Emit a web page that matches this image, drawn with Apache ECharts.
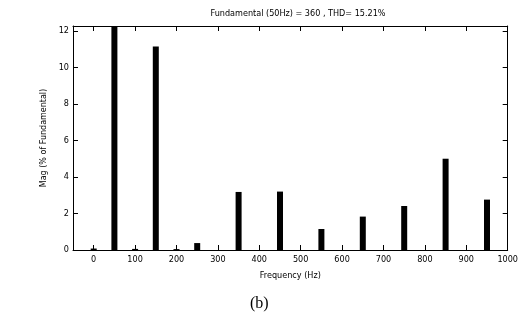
<!DOCTYPE html>
<html>
<head>
<meta charset="utf-8">
<script src="https://cdn.jsdelivr.net/npm/echarts@6/dist/echarts.min.js"></script>
<style>
  html, body { margin: 0; padding: 0; background: #fff; }
  #main { width: 521px; height: 326px; }
</style>
</head>
<body>
<div id="main"></div>
<script>
// harmonic frequencies (Hz) and magnitudes (% of fundamental)
const freqs = [0, 50, 100, 150, 200, 250, 350, 450, 550, 650, 750, 850, 950]
const mags = [0.08, 100, 0.06, 11.15, 0.05, 0.38, 3.18, 3.2, 1.15, 1.83, 2.41, 5.0, 2.76]
const xTicks = [0, 100, 200, 300, 400, 500, 600, 700, 800, 900, 1000]
const yTicks = [0, 2, 4, 6, 8, 10, 12]

const narrow = '"Liberation Sans Narrow", "DejaVu Sans Condensed", sans-serif'

const tickStyle = { show: true, inside: true, length: 5, lineStyle: { color: '#000', width: 1 } }
const lineStyle = { show: true, onZero: false, lineStyle: { color: '#000', width: 1 } }

const option = {
  animation: false,
  backgroundColor: '#fff',
  title: {
    text: 'Fundamental (50Hz) = 360 , THD= 15.21%',
    left: 293,
    top: 4,
    textAlign: 'center',
    textStyle: { fontFamily: narrow, fontSize: 9, fontWeight: 'normal', color: '#000' }
  },
  grid: { left: 73, right: 8, top: 26, bottom: 76 },
  xAxis: [
    {
      type: 'value',
      min: -50,
      max: 1000,
      name: 'Frequency (Hz)',
      nameLocation: 'middle',
      nameGap: 21,
      nameTextStyle: { fontFamily: narrow, fontSize: 9, color: '#000' },
      axisLine: lineStyle,
      axisTick: Object.assign({ customValues: xTicks }, tickStyle),
      axisLabel: { customValues: xTicks, formatter: v => String(v), fontFamily: narrow, fontSize: 9, color: '#000', margin: 5 },
      splitLine: { show: false }
    },
    {
      type: 'value',
      position: 'top',
      min: -50,
      max: 1000,
      axisLine: lineStyle,
      axisTick: Object.assign({ customValues: xTicks }, tickStyle),
      axisLabel: { show: false },
      splitLine: { show: false }
    }
  ],
  yAxis: [
    {
      type: 'value',
      min: 0,
      max: 12.27,
      name: 'Mag (% of Fundamental)',
      nameLocation: 'middle',
      nameGap: 19,
      nameTextStyle: { fontFamily: 'DejaVu Sans, sans-serif', fontSize: 8, color: '#000' },
      axisLine: lineStyle,
      axisTick: Object.assign({ customValues: yTicks }, tickStyle),
      axisLabel: { customValues: yTicks, fontFamily: narrow, fontSize: 9, color: '#000', margin: 4 },
      splitLine: { show: false }
    },
    {
      type: 'value',
      position: 'right',
      min: 0,
      max: 12.27,
      axisLine: lineStyle,
      axisTick: Object.assign({ customValues: yTicks }, tickStyle),
      axisLabel: { show: false },
      splitLine: { show: false }
    }
  ],
  graphic: [
    {
      type: 'text',
      left: 250,
      top: 296,
      style: { text: '(b)', font: '16px "Liberation Serif", "DejaVu Serif", serif', fill: '#000' }
    }
  ],
  series: [
    {
      type: 'bar',
      xAxisIndex: 0,
      yAxisIndex: 0,
      barWidth: 6,
      clip: true,
      itemStyle: { color: '#000' },
      data: freqs.map((f, i) => [f, mags[i]])
    }
  ]
}

echarts.init(document.getElementById('main')).setOption(option)
</script>
</body>
</html>
